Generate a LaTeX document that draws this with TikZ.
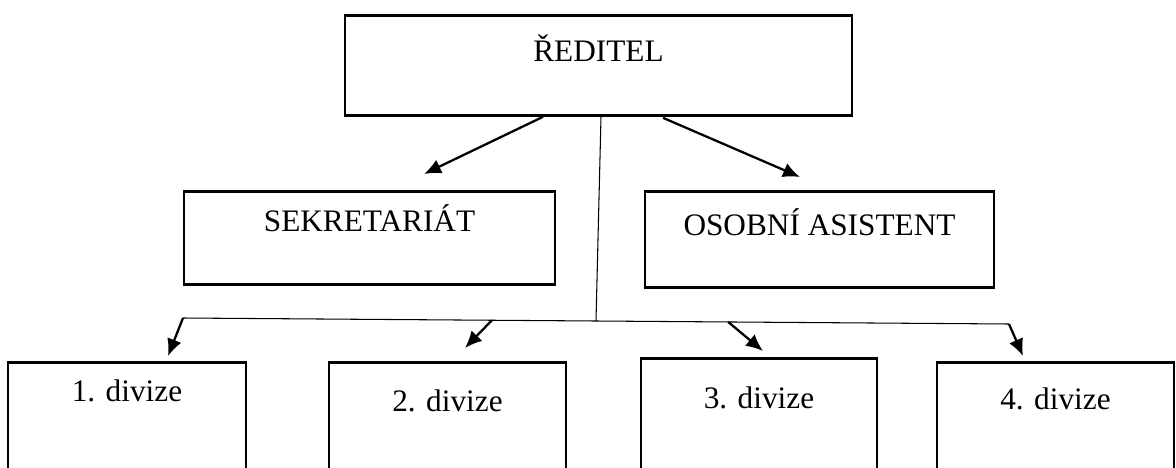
\documentclass[tikz,border=0pt]{standalone}
\usepackage{fontspec}
\setmainfont{Liberation Serif}
\usetikzlibrary{calc,arrows.meta}

\begin{document}
\begin{tikzpicture}[font=\fontsize{17.8}{21}\selectfont,
    caja/.style={draw, line width=1.6pt, inner sep=0pt, anchor=north, align=center},
    flecha/.style={-{Latex[length=0.34cm,width=0.3cm]}, line width=1.3pt},
    linea/.style={line width=0.6pt}]
  \path[use as bounding box, clip] (0,0) rectangle (23.52,9.34);
  \node[caja, minimum width=10.14cm, text height=0.92cm, text depth=1.08cm] (reditel) at (11.97,9.06) {ŘEDITEL};
  \node[caja, minimum width=7.42cm, text height=0.80cm, text depth=1.06cm] (sekr) at (7.39,5.54) {SEKRETARIÁT};
  \node[caja, minimum width=6.98cm, text height=0.88cm, text depth=1.04cm] (asist) at (16.39,5.54) {OSOBNÍ ASISTENT};
  \node[caja, minimum width=4.76cm, text height=0.78cm, text depth=1.50cm] (div1) at (2.54,2.12) {1. divize};
  \node[caja, minimum width=4.74cm, text height=0.98cm, text depth=1.30cm] (div2) at (8.95,2.12) {2. divize};
  \node[caja, minimum width=4.72cm, text height=1.00cm, text depth=1.36cm] (div3) at (15.18,2.20) {3. divize};
  \node[caja, minimum width=4.74cm, text height=0.94cm, text depth=1.34cm] (div4) at (21.11,2.12) {4. divize};
  \coordinate (izq) at (3.66,2.98);
  \coordinate (der) at (20.18,2.86);
  \draw[flecha] ([xshift=-1.11cm]reditel.south) -- ([xshift=1.09cm,yshift=0.32cm]sekr.north);
  \draw[flecha] ([xshift=1.29cm,yshift=-0.02cm]reditel.south) -- ([xshift=-0.39cm,yshift=0.26cm]asist.north);
  \draw[linea] ([xshift=0.05cm]reditel.south) -- ($(izq)!0.5!(der)$);
  \draw[linea] (izq) -- (der);
  \draw[flecha] (izq) -- ([xshift=0.82cm,yshift=0.10cm]div1.north);
  \draw[flecha] ($(izq)!0.374!(der)$) -- ([xshift=0.35cm,yshift=0.26cm]div2.north);
  \draw[flecha] ($(izq)!0.66!(der)$) -- ([xshift=0.08cm,yshift=0.12cm]div3.north);
  \draw[flecha] (der) -- ([xshift=-0.65cm,yshift=0.10cm]div4.north);
\end{tikzpicture}
\end{document}
